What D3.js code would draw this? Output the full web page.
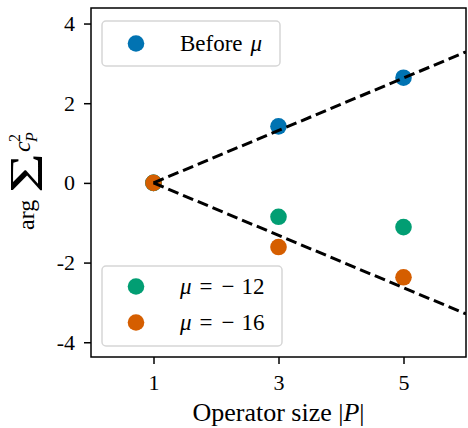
<!DOCTYPE html>
<html>
<head>
<meta charset="utf-8">
<script src="https://cdn.jsdelivr.net/npm/d3@7"></script>
<style>
  body { margin: 0; background: #ffffff; }
  text { font-family: "Liberation Serif", "DejaVu Serif", serif; fill: #000000; }
</style>
</head>
<body>
<div id="scatter"></div>
<script>
// Data
var sizes = [1, 3, 5];
var beforeMu = [0, 1.42, 2.64];
var mu12 = [0, -0.85, -1.11];
var mu16 = [0, -1.61, -2.37];

// dashed guide lines (end points)
var guideX = [1, 6];
var guideUp = [0, 3.29];
var guideDown = [0, -3.29];

var xTicks = [1, 3, 5];
var yTicks = [-4, -2, 0, 2, 4];

var seriesColors = ["#0173b2", "#029e73", "#d55e00"];

// Step 1: chart size
var svgWidth = 468;
var svgHeight = 428;
var margin = { top: 8, right: 2, bottom: 71, left: 91 };
var width = svgWidth - margin.left - margin.right;
var height = svgHeight - margin.top - margin.bottom;

var svg = d3.select("#scatter").append("svg")
  .attr("width", svgWidth)
  .attr("height", svgHeight);

var chartGroup = svg.append("g")
  .attr("transform", `translate(${margin.left}, ${margin.top})`);

// Step 2: scales
var x = d3.scaleLinear().domain([0, 6]).range([0, width]);
var y = d3.scaleLinear().domain([-4.37, 4.39]).range([height, 0]);

chartGroup.append("clipPath").attr("id", "plotclip")
  .append("rect").attr("width", width).attr("height", height);

// Step 3: points (blue, green, orange)
var allSeries = [beforeMu, mu12, mu16];
allSeries.forEach(function (vals, i) {
  chartGroup.append("g")
    .selectAll("circle")
    .data(vals)
    .enter()
    .append("circle")
      .attr("cx", function (d, j) { return x(sizes[j]); })
      .attr("cy", function (d) { return y(d); })
      .attr("r", 8.3)
      .style("fill", seriesColors[i]);
});

// dashed lines on top
var line = d3.line()
  .x(function (d, j) { return x(guideX[j]); })
  .y(function (d) { return y(d); });

[guideUp, guideDown].forEach(function (g) {
  chartGroup.append("path")
    .datum(g)
    .attr("d", line)
    .attr("clip-path", "url(#plotclip)")
    .attr("fill", "none")
    .attr("stroke", "#000")
    .attr("stroke-width", 3)
    .attr("stroke-dasharray", "11,5");
});

// Step 4: axes
var xAxis = chartGroup.append("g")
  .attr("transform", "translate(0," + height + ")")
  .call(d3.axisBottom(x).tickValues(xTicks).tickSize(7).tickPadding(10).tickFormat(d3.format("d")));

var yAxis = chartGroup.append("g")
  .call(d3.axisLeft(y).tickValues(yTicks).tickSize(7).tickPadding(9)
    .tickFormat(function (d) { return d < 0 ? "-" + Math.abs(d) : d; }));

[xAxis, yAxis].forEach(function (a) {
  a.select(".domain").remove();
  a.selectAll("line").attr("stroke", "#000").attr("stroke-width", 1.5);
  a.selectAll("text").attr("font-family", "Liberation Serif").attr("font-size", "22px");
});

// box round the plot
chartGroup.append("rect")
  .attr("width", width)
  .attr("height", height)
  .attr("fill", "none")
  .attr("stroke", "#000")
  .attr("stroke-width", 1.5);

// Step 5: legends
function legendBox(x0, y0, w, h) {
  return svg.append("rect")
    .attr("x", x0).attr("y", y0)
    .attr("width", w).attr("height", h)
    .attr("rx", 4)
    .attr("fill", "#fff")
    .attr("fill-opacity", 0.8)
    .attr("stroke", "#d6d6d6")
    .attr("stroke-width", 1.5);
}

// parts: [text, italic, dx]
function legendItem(cx, cy, color, parts) {
  svg.append("circle").attr("cx", cx).attr("cy", cy).attr("r", 8.3).style("fill", color);
  var t = svg.append("text")
    .attr("x", 180).attr("y", cy + 7.5)
    .attr("font-size", "23px");
  parts.forEach(function (p) {
    t.append("tspan").text(p[0])
      .attr("font-style", p[1] ? "italic" : null)
      .attr("dx", p[2] || 0);
  });
}

legendBox(102, 21, 178, 45);
legendItem(136, 43.5, seriesColors[0], [["Before", false], ["\u03bc", true, 8]]);

legendBox(102, 266, 180, 80);
legendItem(136, 286.5, seriesColors[1], [["\u03bc", true], ["=", false, 8], ["\u2212", false, 9], ["12", false, 7]]);
legendItem(136, 322.5, seriesColors[2], [["\u03bc", true], ["=", false, 8], ["\u2212", false, 9], ["16", false, 7]]);

// Step 6: axis labels
svg.append("text")
  .attr("x", margin.left + width / 2)
  .attr("y", 421)
  .attr("text-anchor", "middle")
  .attr("font-size", "26px")
  .selectAll("tspan")
  .data([["Operator size |", false], ["P", true], ["|", false]])
  .enter().append("tspan")
  .text(function (d) { return d[0]; })
  .attr("font-style", function (d) { return d[1] ? "italic" : null; });

var yl = svg.append("g").attr("transform", "translate(34, 180) rotate(-90)");
yl.append("text").attr("x", -50).attr("y", 0).attr("font-size", "24px").text("arg");
yl.append("text").attr("x", -13).attr("y", 8).attr("font-size", "46px")
  .attr("textLength", 40).attr("lengthAdjust", "spacingAndGlyphs").text("\u03a3");
yl.append("text").attr("x", 28).attr("y", -4).attr("font-size", "24px").attr("font-style", "italic").text("c");
yl.append("text").attr("x", 38).attr("y", 3).attr("font-size", "16px").attr("font-style", "italic").text("P");
yl.append("text").attr("x", 38).attr("y", -14).attr("font-size", "16px").text("2");
</script>
</body>
</html>
